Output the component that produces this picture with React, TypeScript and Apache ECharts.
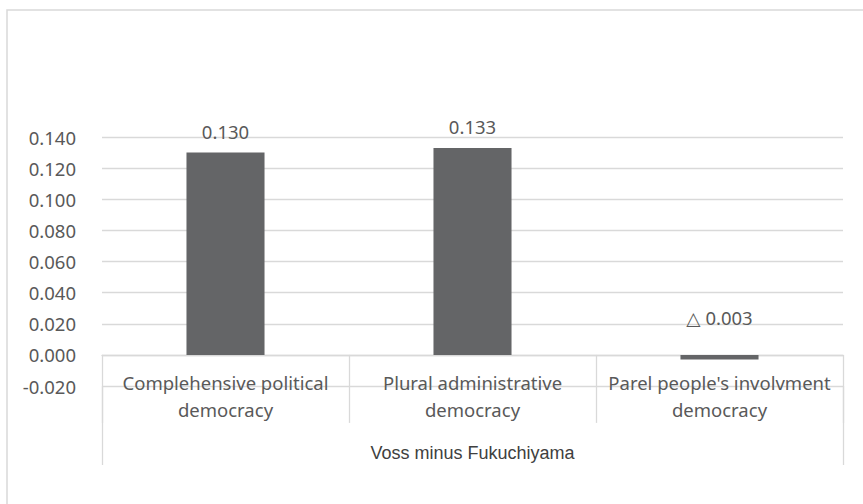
import React, { useEffect, useRef } from "react";
import * as echarts from "echarts";

// Category names (two-line labels) and the group they belong to
const categories = [
  "Complehensive political\ndemocracy",
  "Plural administrative\ndemocracy",
  "Parel people's involvment\ndemocracy",
];
const groupLabels = ["Voss minus Fukuchiyama"];

// Differences per democracy type
const values = [0.13, 0.133, -0.003];

// Value axis range
const yMin = -0.02;
const yMax = 0.14;
const yStep = 0.02;

const TEXT = "#595959";
const GRID = "#d9d9d9";
const BAR = "#646567";
const FONT = "'Noto Sans', 'DejaVu Sans', sans-serif";

// Negative values are written with a triangle, as in Japanese accounting notation
const fmtValue = (v: number) =>
  v < 0 ? `\u25B3 ${Math.abs(v).toFixed(3)}` : v.toFixed(3);

export default function App() {
  const ref = useRef<HTMLDivElement>(null);

  useEffect(() => {
    if (!ref.current) return;
    const chart = echarts.init(ref.current, undefined, { renderer: "svg" });
    chart.setOption({
      animation: false,
      backgroundColor: "#ffffff",
      graphic: [
        {
          type: "rect",
          shape: { x: 7, y: 10, width: 1000, height: 800 },
          style: { fill: "none", stroke: GRID, lineWidth: 1.5 },
          silent: true,
          z: -1,
        },
      ],
      grid: { left: 102, right: 20, top: 137, bottom: 118 },
      xAxis: [
        {
          type: "category",
          data: categories,
          position: "bottom",
          axisLine: { show: true, onZero: true, lineStyle: { color: GRID, width: 1.3 } },
          axisTick: { show: true, length: 68, lineStyle: { color: GRID, width: 1.3 } },
          axisLabel: {
            color: TEXT,
            fontFamily: FONT,
            fontSize: 18.5,
            lineHeight: 27,
            margin: -17,
            interval: 0,
          },
          splitLine: { show: false },
        },
        {
          type: "category",
          data: groupLabels,
          position: "bottom",
          axisLine: { show: false, onZero: false },
          axisTick: { show: true, length: 79, lineStyle: { color: GRID, width: 1.3 } },
          axisLabel: {
            color: "#404040",
            fontFamily: "'Liberation Sans', Arial, sans-serif",
            fontSize: 18,
            margin: 58,
          },
          splitLine: { show: false },
        },
      ],
      yAxis: {
        type: "value",
        min: yMin,
        max: yMax,
        interval: yStep,
        axisLine: { show: false },
        axisTick: { show: false },
        axisLabel: {
          color: TEXT,
          fontFamily: FONT,
          fontSize: 18.5,
          margin: 26,
          formatter: (v: number) => v.toFixed(3),
        },
        splitLine: { show: true, lineStyle: { color: GRID, width: 1.3 } },
      },
      series: [
        {
          type: "bar",
          xAxisIndex: 0,
          barWidth: "31.6%",
          itemStyle: { color: BAR },
          label: {
            show: true,
            position: "top",
            distance: 12,
            color: TEXT,
            fontFamily: FONT,
            fontSize: 18.5,
            formatter: (p: any) => fmtValue(p.value),
          },
          data: values.map((v) =>
            v < 0 ? { value: v, label: { distance: 28 } } : { value: v }
          ),
        },
      ],
    });
    return () => chart.dispose();
  }, []);

  return (
    <div
      ref={ref}
      style={{ position: "fixed", left: 0, top: 0, width: 863, height: 504 }}
    />
  );
}
